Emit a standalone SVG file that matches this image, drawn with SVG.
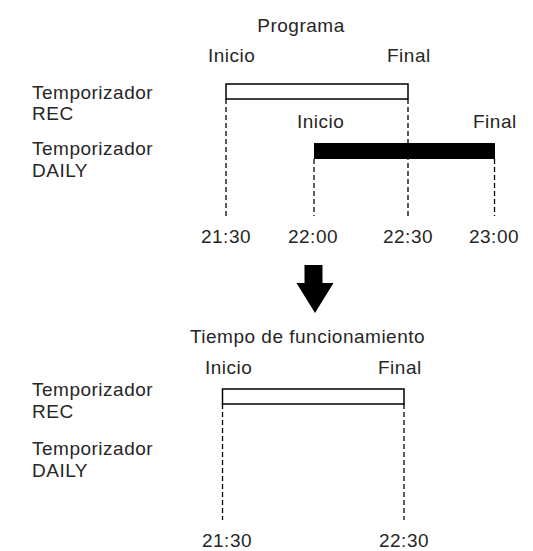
<svg xmlns="http://www.w3.org/2000/svg" width="533" height="551" viewBox="0 0 533 551">
<style>
text{font-family:"Liberation Sans",Arial,sans-serif;font-size:19px;letter-spacing:0.5px;fill:#262626}
.m{text-anchor:middle}
.bar{fill:#fff;stroke:#000;stroke-width:1.5}
.blk{fill:#000}
.d{stroke:#000;stroke-width:1.3;stroke-dasharray:5 3;fill:none}
</style>
<rect width="533" height="551" fill="#fff"/>
<g id="top-titles">
<text class="m" x="301" y="32">Programa</text>
<text x="208" y="62">Inicio</text>
<text x="387" y="62">Final</text>
</g>
<g id="top-rows">
<text x="32" y="98.5">Temporizador</text>
<text x="32" y="120">REC</text>
<text x="32" y="155">Temporizador</text>
<text x="32" y="176.5">DAILY</text>
</g>
<g id="rec-bar">
<rect class="bar" x="226" y="84" width="182" height="15"/>
</g>
<g id="daily-bar">
<text x="297" y="128">Inicio</text>
<text x="473" y="128">Final</text>
<rect class="blk" x="314" y="143" width="181" height="16"/>
</g>
<g id="connectors">
<line class="d" x1="226" y1="99" x2="226" y2="216"/>
<line class="d" x1="408" y1="99" x2="408" y2="216"/>
<line class="d" x1="314" y1="159" x2="314" y2="216"/>
<line class="d" x1="494.5" y1="159" x2="494.5" y2="216"/>
<line class="d" x1="222.5" y1="404" x2="222.5" y2="520"/>
<line class="d" x1="404" y1="404" x2="404" y2="520"/>
</g>
<g id="top-times">
<text class="m" x="226" y="243">21:30</text>
<text class="m" x="313" y="243">22:00</text>
<text class="m" x="408" y="243">22:30</text>
<text class="m" x="494" y="243">23:00</text>
</g>
<g id="arrow">
<polygon class="blk" points="304.5,265 322.5,265 322.5,283 333.5,283 315,313 296.5,283 304.5,283"/>
</g>
<g id="bottom-titles">
<text class="m" x="307.5" y="343">Tiempo de funcionamiento</text>
<text x="205" y="374">Inicio</text>
<text x="378" y="374">Final</text>
</g>
<g id="bottom-rows">
<text x="32" y="396">Temporizador</text>
<text x="32" y="417.5">REC</text>
<text x="32" y="455">Temporizador</text>
<text x="32" y="476.5">DAILY</text>
</g>
<g id="op-bar">
<rect class="bar" x="222.5" y="389" width="181.5" height="15"/>
</g>
<g id="bottom-times">
<text class="m" x="227" y="547">21:30</text>
<text class="m" x="404" y="547">22:30</text>
</g>
</svg>
